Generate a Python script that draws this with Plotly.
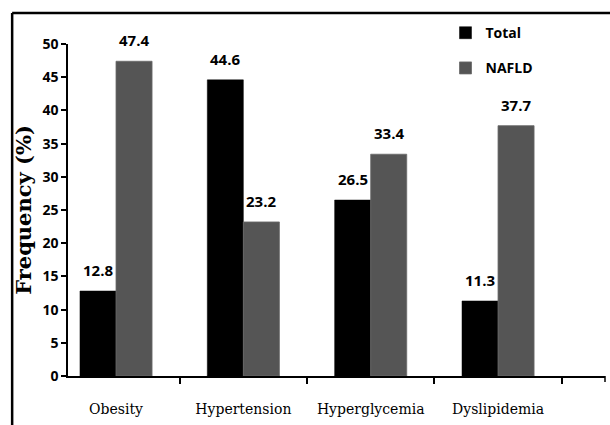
import plotly.graph_objects as go

categories = ["Obesity", "Hypertension", "Hyperglycemia", "Dyslipidemia"]
total = [12.8, 44.6, 26.5, 11.3]
nafld = [47.4, 23.2, 33.4, 37.7]
y_ticks = [0, 5, 10, 15, 20, 25, 30, 35, 40, 45, 50]

sans = "Open Sans"
label_font = dict(family=sans, size=15, color="#000000", weight="bold")

fig = go.Figure()
fig.add_trace(go.Bar(
    x=categories, y=total, name="Total", legendgroup="a",
    marker=dict(color="#000000", line=dict(color="#000000", width=0.5)),
))
fig.add_trace(go.Bar(
    x=categories, y=nafld, name="NAFLD", legendgroup="b",
    marker=dict(color="#555555", line=dict(color="#6a6a6a", width=0.8)),
))

annotations = []
for series, shift in ((total, -18), (nafld, 18)):
    for cat, v in zip(categories, series):
        annotations.append(dict(
            x=cat, y=v, xref="x", yref="y", text=f"{v}", showarrow=False,
            xanchor="center", yanchor="middle", xshift=shift, yshift=21,
            font=label_font,
        ))

fig.update_layout(
    width=610, height=425,
    margin=dict(l=68, r=5, t=44, b=49, autoexpand=False),
    paper_bgcolor="white", plot_bgcolor="white",
    barmode="group", bargap=0.434, bargroupgap=0,
    showlegend=True,
    legend=dict(
        x=0.703, y=1.081, xanchor="left", yanchor="top",
        font=dict(family=sans, size=14, color="#000000", weight="bold"),
        bgcolor="rgba(0,0,0,0)", traceorder="grouped", tracegroupgap=14,
        itemwidth=30,
    ),
    xaxis=dict(
        type="category", range=[-0.377, 3.84], automargin=False,
        showline=True, linecolor="#000000", linewidth=1.5,
        ticks="outside", ticklen=6, tickwidth=1.5, tickcolor="#000000",
        tickson="boundaries", ticklabelstandoff=19,
        tickfont=dict(family="DejaVu Serif", size=14, color="#000000"),
        showgrid=False, zeroline=False,
    ),
    yaxis=dict(
        range=[0, 50], tickvals=y_ticks, automargin=False,
        showline=True, linecolor="#000000", linewidth=1.5,
        ticks="outside", ticklen=5, tickwidth=1.5, tickcolor="#000000",
        tickfont=dict(family=sans, size=14, color="#000000", weight="bold"),
        showgrid=False, zeroline=False,
        title=dict(text="Frequency (%)", standoff=5,
                   font=dict(family="DejaVu Serif", size=21, color="#000000", weight="bold")),
    ),
    annotations=annotations,
    shapes=[
        dict(type="line", xref="paper", yref="paper",
             x0=-0.104, x1=1.2, y0=1.093, y1=1.093,
             line=dict(color="#000000", width=2.5)),
        dict(type="line", xref="paper", yref="paper",
             x0=-0.104, x1=-0.104, y0=-0.5, y1=1.093,
             line=dict(color="#000000", width=2.5)),
        dict(type="line", xref="paper", yref="paper",
             x0=1, x1=1, y0=0, y1=-0.018,
             line=dict(color="#000000", width=1.5)),
    ],
)

fig.write_html(
    "out.html",
    config={"displayModeBar": False},
    post_script=(
        "document.body.style.margin='0';"
        "document.body.style.overflow='hidden';"
        "document.documentElement.style.overflow='hidden';"
    ),
)
